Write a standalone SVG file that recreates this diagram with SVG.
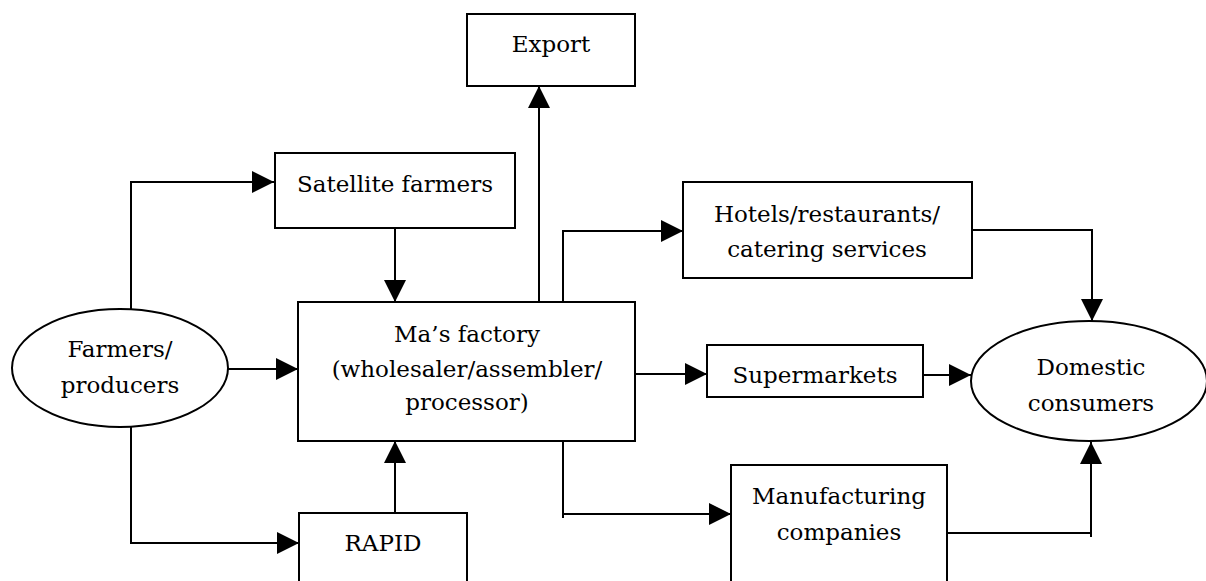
<svg xmlns="http://www.w3.org/2000/svg" width="1206" height="581" viewBox="0 0 1206 581">
<style>
.box{fill:#fff;stroke:#000;stroke-width:2}
.ln{fill:none;stroke:#000;stroke-width:2}
text{font-family:"DejaVu Serif","Liberation Serif",serif;font-size:23px;fill:#000;text-anchor:middle}
</style>
<defs>
<marker id="ah" markerUnits="userSpaceOnUse" markerWidth="22" markerHeight="22" viewBox="0 0 20 20" refX="20" refY="10" orient="auto">
<path d="M0,0 L20,10 L0,20 Z" fill="#000"/>
</marker>
</defs>
<rect width="1206" height="581" fill="#fff"/>
<g id="connectors">
<path class="ln" d="M131,311 V182 H274" marker-end="url(#ah)"/>
<path class="ln" d="M131,417 V543 H299" marker-end="url(#ah)"/>
<path class="ln" d="M228,369 H298" marker-end="url(#ah)"/>
<path class="ln" d="M395,228 V302" marker-end="url(#ah)"/>
<path class="ln" d="M395,513 V441" marker-end="url(#ah)"/>
<path class="ln" d="M539,302 V86" marker-end="url(#ah)"/>
<path class="ln" d="M563,302 V231 H683" marker-end="url(#ah)"/>
<path class="ln" d="M972,230 H1092 V321" marker-end="url(#ah)"/>
<path class="ln" d="M635,374 H707" marker-end="url(#ah)"/>
<path class="ln" d="M923,375 H971" marker-end="url(#ah)"/>
<path class="ln" d="M563,441 V518"/>
<path class="ln" d="M563,514 H731" marker-end="url(#ah)"/>
<path class="ln" d="M947,533 H1091"/>
<path class="ln" d="M1091,537 V442" marker-end="url(#ah)"/>
</g>
<g id="export">
<rect class="box" x="467" y="14" width="168" height="72"/>
<text x="551" y="52">Export</text>
</g>
<g id="satellite">
<rect class="box" x="275" y="153" width="240" height="75"/>
<text x="395" y="192">Satellite farmers</text>
</g>
<g id="hotels">
<rect class="box" x="683" y="182" width="289" height="96"/>
<text x="827" y="222">Hotels/restaurants/</text>
<text x="827" y="257">catering services</text>
</g>
<g id="farmers">
<ellipse class="box" cx="120" cy="368" rx="108" ry="59"/>
<text x="120" y="357">Farmers/</text>
<text x="120" y="393">producers</text>
</g>
<g id="factory">
<rect class="box" x="298" y="302" width="337" height="139"/>
<text x="467" y="342">Ma’s factory</text>
<text x="467" y="377">(wholesaler/assembler/</text>
<text x="467" y="410">processor)</text>
</g>
<g id="supermarkets">
<rect class="box" x="707" y="345" width="216" height="52"/>
<text x="815" y="383">Supermarkets</text>
</g>
<g id="domestic">
<ellipse class="box" cx="1089" cy="381" rx="118" ry="60"/>
<text x="1091" y="375">Domestic</text>
<text x="1091" y="411">consumers</text>
</g>
<g id="rapid">
<rect class="box" x="299" y="513" width="168" height="80"/>
<text x="383" y="551">RAPID</text>
</g>
<g id="manufacturing">
<rect class="box" x="731" y="465" width="216" height="130"/>
<text x="839" y="504">Manufacturing</text>
<text x="839" y="540">companies</text>
</g>
</svg>
